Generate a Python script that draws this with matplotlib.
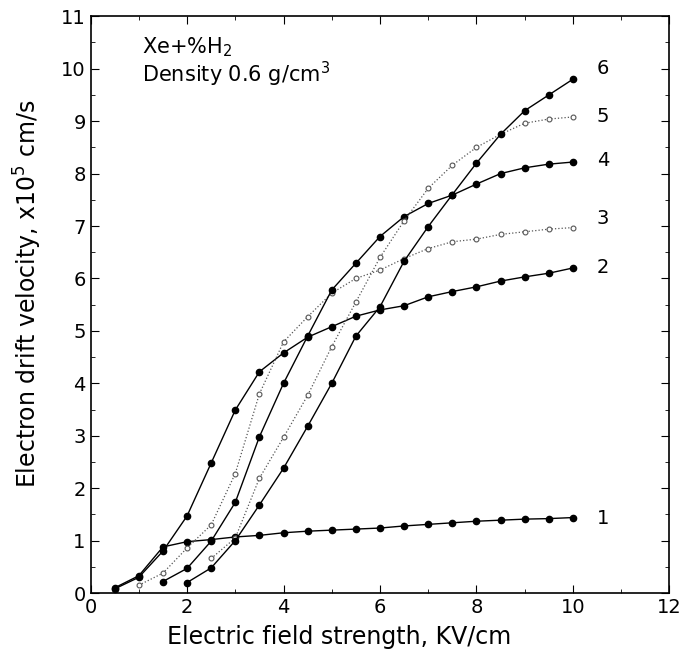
import numpy as np
import matplotlib.pyplot as plt
from matplotlib.ticker import MultipleLocator

plt.rcParams["font.family"] = ["DejaVu Sans"]

# field strength, kV/cm
x1 = [0.5, 1, 1.5, 2, 2.5, 3, 3.5, 4, 4.5, 5, 5.5, 6, 6.5, 7, 7.5, 8, 8.5, 9, 9.5, 10]
x2 = x1
x3 = [1, 1.5, 2, 2.5, 3, 3.5, 4, 4.5, 5, 5.5, 6, 6.5, 7, 7.5, 8, 8.5, 9, 9.5, 10]
x4 = [1.5, 2, 2.5, 3, 3.5, 4, 4.5, 5, 5.5, 6, 6.5, 7, 7.5, 8, 8.5, 9, 9.5, 10]
x5 = [2.5, 3, 3.5, 4, 4.5, 5, 5.5, 6, 6.5, 7, 7.5, 8, 8.5, 9, 9.5, 10]
x6 = [2, 2.5, 3, 3.5, 4, 4.5, 5, 5.5, 6, 6.5, 7, 7.5, 8, 8.5, 9, 9.5, 10]

# drift velocity, x10^5 cm/s
v1 = [0.1, 0.33, 0.88, 0.98, 1.02, 1.07, 1.1, 1.15, 1.18, 1.2, 1.22, 1.24,
      1.28, 1.31, 1.34, 1.37, 1.39, 1.41, 1.42, 1.44]
v2 = [0.08, 0.3, 0.8, 1.47, 2.48, 3.49, 4.22, 4.58, 4.88, 5.08, 5.28, 5.4,
      5.48, 5.65, 5.75, 5.84, 5.95, 6.03, 6.1, 6.2]
v3 = [0.15, 0.38, 0.86, 1.3, 2.28, 3.8, 4.79, 5.27, 5.72, 6.0, 6.16, 6.38,
      6.57, 6.7, 6.75, 6.84, 6.89, 6.94, 6.97]
v4 = [0.22, 0.47, 0.99, 1.73, 2.98, 4.0, 4.9, 5.78, 6.29, 6.8, 7.18, 7.43,
      7.59, 7.8, 8.0, 8.11, 8.18, 8.22]
v5 = [0.66, 1.05, 2.19, 2.97, 3.77, 4.7, 5.55, 6.4, 7.1, 7.72, 8.16, 8.5,
      8.75, 8.96, 9.04, 9.08]
v6 = [0.2, 0.48, 1.0, 1.68, 2.38, 3.18, 4.0, 4.9, 5.46, 6.33, 6.99, 7.6,
      8.2, 8.75, 9.2, 9.5, 9.8]

labels = ["1", "2", "3", "4", "5", "6"]
label_y = [1.43, 6.2, 7.15, 8.24, 9.08, 10.0]


def main():
    fig = plt.figure(figsize=(6.81, 6.51), dpi=100)
    ax = fig.add_axes([0.133, 0.089, 0.850, 0.886])

    solid = dict(color="black", lw=1.0, marker="o", ms=4.5,
                 mfc="black", mec="black")
    dotted = dict(color="#555555", lw=0.9, ls=":", marker="o", ms=3.5,
                  mfc="white", mec="#555555", mew=0.8)

    ax.plot(x1, v1, **solid)
    ax.plot(x2, v2, **solid)
    ax.plot(x3, v3, **dotted)
    ax.plot(x4, v4, **solid)
    ax.plot(x5, v5, **dotted)
    ax.plot(x6, v6, **solid)

    for lab, yy in zip(labels, label_y):
        ax.text(10.62, yy, lab, fontsize=14, ha="center", va="center")

    ax.text(1.07, 10.12, "Xe+%H$_2$\nDensity 0.6 g/cm$^3$",
            fontsize=15, ha="left", va="center", linespacing=1.05)

    ax.set_xlim(0, 12)
    ax.set_ylim(0, 11)
    ax.xaxis.set_major_locator(MultipleLocator(2))
    ax.xaxis.set_minor_locator(MultipleLocator(1))
    ax.yaxis.set_major_locator(MultipleLocator(1))
    ax.yaxis.set_minor_locator(MultipleLocator(0.5))
    ax.tick_params(which="both", direction="in", top=True, right=True,
                   labelsize=14)
    ax.tick_params(which="major", length=6)
    ax.tick_params(which="minor", length=3)
    for s in ax.spines.values():
        s.set_linewidth(1.2)

    ax.set_xlabel("Electric field strength, KV/cm", fontsize=17)
    ax.set_ylabel("Electron drift velocity, x10$^5$ cm/s", fontsize=17)
    ax.xaxis.set_label_coords(0.43, -0.055)
    ax.yaxis.set_label_coords(-0.08, 0.52)

    fig.savefig("out.png", dpi=100)


if __name__ == "__main__":
    main()
